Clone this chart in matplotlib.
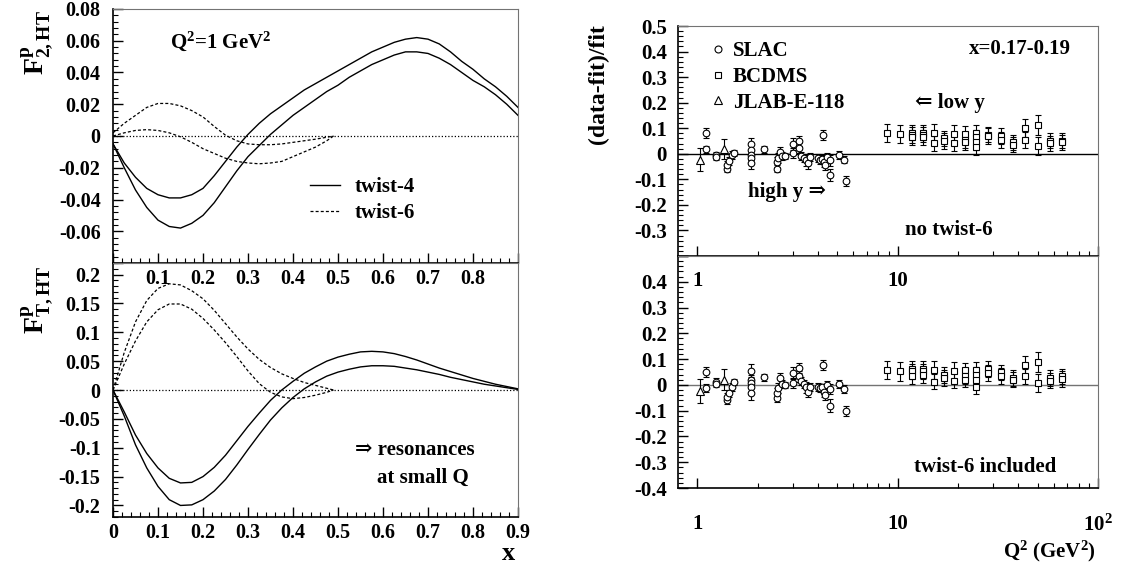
import numpy as np
import matplotlib
matplotlib.use('Agg')
import matplotlib.pyplot as plt
from matplotlib.ticker import MultipleLocator, FuncFormatter, FixedLocator
from matplotlib.lines import Line2D

plt.rcParams['font.family'] = ['Liberation Serif', 'DejaVu Serif']
plt.rcParams['font.weight'] = 'bold'
plt.rcParams['mathtext.fontset'] = 'custom'
plt.rcParams['mathtext.rm'] = 'Liberation Serif:bold'
plt.rcParams['mathtext.it'] = 'Liberation Serif:bold'
plt.rcParams['mathtext.bf'] = 'Liberation Serif:bold'
plt.rcParams['axes.unicode_minus'] = False

# ---- left panels: higher twist curves at Q^2 = 1 GeV^2 ----
x_t4 = np.round(np.arange(0, 0.9001, 0.025), 3)
x_t6 = np.array([0, 0.025, 0.05, 0.075, 0.1, 0.125, 0.15, 0.175, 0.2, 0.225, 0.25,
                 0.275, 0.3, 0.325, 0.35, 0.375, 0.4, 0.425, 0.45, 0.475, 0.49])

f2_t4_hi = [-0.005, -0.017, -0.026, -0.033, -0.037, -0.039, -0.039, -0.037, -0.033, -0.025,
            -0.016, -0.007, 0.001, 0.008, 0.014, 0.019, 0.024, 0.029, 0.033, 0.037,
            0.041, 0.045, 0.049, 0.053, 0.056, 0.059, 0.061, 0.062, 0.061, 0.058,
            0.053, 0.047, 0.042, 0.036, 0.031, 0.025, 0.018]
f2_t4_lo = [-0.005, -0.020, -0.034, -0.045, -0.053, -0.057, -0.058, -0.055, -0.050, -0.042,
            -0.032, -0.022, -0.013, -0.006, 0.001, 0.007, 0.013, 0.018, 0.023, 0.028,
            0.032, 0.037, 0.041, 0.045, 0.048, 0.051, 0.053, 0.053, 0.052, 0.049,
            0.045, 0.040, 0.035, 0.031, 0.026, 0.020, 0.013]
f2_t6_hi = [0.002, 0.008, 0.013, 0.018, 0.0205, 0.0205, 0.019, 0.016, 0.012, 0.006, 0.0005,
            -0.003, -0.005, -0.0055, -0.0055, -0.005, -0.004, -0.003, -0.002, -0.0008, 0.0]
f2_t6_lo = [0.0, 0.002, 0.0035, 0.004, 0.0035, 0.002, -0.0005, -0.004, -0.008, -0.011, -0.014,
            -0.016, -0.017, -0.0175, -0.017, -0.016, -0.013, -0.010, -0.007, -0.003, 0.0]

ft_t4_hi = [0.0, -0.038, -0.078, -0.110, -0.135, -0.153, -0.161, -0.160, -0.150, -0.134,
            -0.113, -0.088, -0.063, -0.040, -0.018, 0.000, 0.015, 0.029, 0.040, 0.050,
            0.057, 0.062, 0.066, 0.067, 0.066, 0.063, 0.058, 0.052, 0.045, 0.038,
            0.032, 0.026, 0.020, 0.015, 0.010, 0.006, 0.002]
ft_t4_lo = [0.0, -0.045, -0.095, -0.135, -0.167, -0.190, -0.200, -0.199, -0.190, -0.175,
            -0.155, -0.130, -0.103, -0.077, -0.052, -0.031, -0.013, 0.002, 0.014, 0.024,
            0.031, 0.036, 0.040, 0.042, 0.042, 0.041, 0.038, 0.035, 0.031, 0.027,
            0.022, 0.018, 0.014, 0.010, 0.007, 0.004, 0.001]
ft_t6_hi = [0.0, 0.065, 0.118, 0.155, 0.176, 0.184, 0.182, 0.172, 0.158, 0.138, 0.115,
            0.092, 0.071, 0.053, 0.039, 0.028, 0.020, 0.013, 0.008, 0.003, 0.0]
ft_t6_lo = [0.0, 0.045, 0.085, 0.118, 0.139, 0.149, 0.149, 0.140, 0.124, 0.104, 0.082,
            0.058, 0.033, 0.011, -0.004, -0.012, -0.015, -0.013, -0.009, -0.004, 0.0]

# ---- right panels: (data-fit)/fit at x = 0.17-0.19 ----
slac_q2 = [1.10, 1.10, 1.24, 1.24, 1.41, 1.41, 1.43, 1.49, 1.52, 1.86, 1.86, 1.86, 1.86, 1.86,
           2.14, 2.50, 2.50, 2.54, 2.59, 2.64, 2.75, 3.00, 3.00, 3.20, 3.20, 3.29, 3.39, 3.49,
           3.55, 3.63, 4.24, 3.98, 4.07, 4.18, 4.27, 4.35, 4.43, 4.61, 4.61, 5.12, 5.41, 5.53]
slac_top = [0.081, 0.017, -0.004, -0.013, -0.058, -0.045, -0.028, -0.006, 0.004, 0.038, 0.013,
            -0.004, -0.017, -0.035, 0.017, -0.058, -0.032, -0.017, 0.006, -0.009, -0.010, 0.038,
            0.004, 0.051, 0.022, -0.009, -0.017, -0.026, -0.038, -0.013, 0.073, -0.017, -0.026,
            -0.019, -0.032, -0.045, -0.013, -0.026, -0.083, -0.006, -0.023, -0.106]
slac_bot = [0.049, -0.013, 0.013, 0.003, -0.059, -0.046, -0.033, -0.007, 0.010, 0.055, 0.020,
            0.007, -0.007, -0.033, 0.029, -0.052, -0.033, -0.013, 0.026, 0.003, 0.000, 0.046,
            0.007, 0.066, 0.033, 0.016, 0.003, -0.010, -0.026, -0.007, 0.076, -0.007, -0.013,
            -0.010, -0.026, -0.039, 0.000, -0.017, -0.081, 0.003, -0.017, -0.102]
slac_err = [0.02, 0.015, 0.012, 0.012, 0.015, 0.015, 0.015, 0.015, 0.012, 0.025, 0.02, 0.02,
            0.02, 0.025, 0.012, 0.015, 0.02, 0.02, 0.02, 0.015, 0.012, 0.025, 0.02, 0.02, 0.02,
            0.015, 0.015, 0.02, 0.02, 0.015, 0.02, 0.015, 0.015, 0.015, 0.02, 0.02, 0.015, 0.02,
            0.025, 0.015, 0.015, 0.02]

jlab_q2 = [1.035, 1.35]
jlab_top = [-0.023, 0.019]
jlab_bot = [-0.024, 0.020]
jlab_err = [0.045, 0.04]

bcdms_q2 = [8.83, 10.3, 11.8, 11.8, 11.8, 13.3, 13.3, 13.3, 15.1, 15.1, 17.0, 17.0, 19.1, 19.1,
            21.6, 21.6, 21.6, 24.5, 24.5, 24.5, 24.5, 28.1, 28.1, 32.6, 32.6, 37.8, 37.8,
            43.2, 43.2, 50.0, 50.0, 57.6, 57.6, 66.3, 66.3]
bcdms_top = [0.083, 0.079, 0.083, 0.073, 0.064, 0.083, 0.075, 0.064, 0.083, 0.041, 0.060, 0.050,
             0.079, 0.041, 0.079, 0.054, 0.045, 0.083, 0.064, 0.045, 0.026, 0.075, 0.070, 0.070,
             0.054, 0.045, 0.036, 0.100, 0.054, 0.113, 0.032, 0.051, 0.041, 0.051, 0.045]
bcdms_bot = [0.056, 0.052, 0.062, 0.052, 0.033, 0.062, 0.052, 0.039, 0.056, 0.013, 0.039, 0.026,
             0.052, 0.017, 0.056, 0.033, 0.020, 0.059, 0.039, 0.020, -0.007, 0.062, 0.046, 0.049,
             0.035, 0.026, 0.020, 0.079, 0.033, 0.089, 0.009, 0.026, 0.017, 0.033, 0.022]
bcdms_err = [0.035, 0.035, 0.03, 0.03, 0.03, 0.03, 0.03, 0.03, 0.035, 0.03, 0.03, 0.03, 0.035,
             0.03, 0.03, 0.03, 0.03, 0.03, 0.03, 0.03, 0.03, 0.03, 0.03, 0.03, 0.03, 0.03, 0.03,
             0.035, 0.03, 0.04, 0.035, 0.03, 0.03, 0.03, 0.03]

W, H = 1127, 566
fig = plt.figure(figsize=(W / 100, H / 100), dpi=100)


def rect(x0, y0, x1, y1):
    return [x0 / W, 1 - y1 / H, (x1 - x0) / W, (y1 - y0) / H]


def ftext(px, py, s, **kw):
    kw.setdefault('fontsize', 15)
    return fig.text(px / W, 1 - py / H, s, **kw)


def style(ax):
    ax.set_facecolor('none')
    ax.spines['top'].set_color('0.45')
    ax.spines['right'].set_color('0.45')
    for s in ['left', 'bottom']:
        ax.spines[s].set_linewidth(1.2)
    ax.tick_params(which='both', direction='in', top=False, right=False, labelsize=14.5)
    ax.tick_params(which='major', length=7, width=1)
    ax.tick_params(which='minor', length=3.5, width=0.8)


def fmt(lo, hi):
    def f(v, pos):
        v = round(v, 4)
        if v < lo - 1e-9 or v > hi + 1e-9:
            return ''
        return '%g' % v
    return FuncFormatter(f)


dash = (0, (2.4, 1.7))
dot = (0, (1, 1.6))

# left top
ax1 = fig.add_axes(rect(113, 9, 518, 263))
ax1.plot(x_t4, f2_t4_hi, 'k-', lw=1.0)
ax1.plot(x_t4, f2_t4_lo, 'k-', lw=1.0)
ax1.plot(x_t6, f2_t6_hi, color='k', ls=dash, lw=0.9)
ax1.plot(x_t6, f2_t6_lo, color='k', ls=dash, lw=0.9)
ax1.axhline(0, color='k', ls=dot, lw=0.9)
ax1.set_xlim(0, 0.9)
ax1.set_ylim(-0.08, 0.08)
ax1.xaxis.set_major_locator(MultipleLocator(0.1))
ax1.xaxis.set_minor_locator(MultipleLocator(0.02))
ax1.yaxis.set_major_locator(MultipleLocator(0.02))
ax1.yaxis.set_minor_locator(MultipleLocator(0.004))
ax1.xaxis.set_major_formatter(fmt(0.1, 0.8))
ax1.yaxis.set_major_formatter(fmt(-0.06, 0.08))
style(ax1)
ax1.tick_params(axis='x', pad=4)
ax1.tick_params(axis='y', pad=9)
ax1.legend([Line2D([], [], color='k', lw=1.0), Line2D([], [], color='k', ls=dash, lw=0.9)],
           ['twist-4', 'twist-6'], loc='upper left', frameon=False, fontsize=15,
           bbox_to_anchor=(310 / W, 1 - 177 / H), bbox_transform=fig.transFigure,
           borderpad=0, borderaxespad=0, handlelength=1.45, handletextpad=0.7,
           labelspacing=0.3)

# left bottom
ax2 = fig.add_axes(rect(113, 263, 518, 517))
ax2.plot(x_t4, ft_t4_hi, 'k-', lw=1.0)
ax2.plot(x_t4, ft_t4_lo, 'k-', lw=1.0)
ax2.plot(x_t6, ft_t6_hi, color='k', ls=dash, lw=0.9)
ax2.plot(x_t6, ft_t6_lo, color='k', ls=dash, lw=0.9)
ax2.axhline(0, color='k', ls=dot, lw=0.9)
ax2.set_xlim(0, 0.9)
ax2.set_ylim(-0.22, 0.22)
ax2.xaxis.set_major_locator(MultipleLocator(0.1))
ax2.xaxis.set_minor_locator(MultipleLocator(0.02))
ax2.yaxis.set_major_locator(MultipleLocator(0.05))
ax2.yaxis.set_minor_locator(MultipleLocator(0.01))
ax2.xaxis.set_major_formatter(fmt(0, 0.9))
ax2.yaxis.set_major_formatter(fmt(-0.2, 0.2))
style(ax2)
ax2.tick_params(axis='x', pad=4)
ax2.tick_params(axis='y', pad=9)


def qfmt(labels):
    return FuncFormatter(lambda v, pos: labels.get(int(round(v)), ''))


def right_panel(ax, slac, jlab, bcdms, zcolor, ylo, yhi, labels, pad):
    ax.set_xscale('log')
    ax.axhline(0, color=zcolor, lw=1.0, zorder=1)
    kw = dict(ls='none', mfc='white', mec='k', mew=0.8, ecolor='k', elinewidth=0.8,
              capsize=2.2, capthick=0.8, zorder=3)
    ax.errorbar(bcdms_q2, bcdms, yerr=bcdms_err, marker='s', ms=4.5, **kw)
    ax.errorbar(slac_q2, slac, yerr=slac_err, marker='o', ms=4.8, **kw)
    ax.errorbar(jlab_q2, jlab, yerr=jlab_err, marker='^', ms=5.2, **kw)
    ax.set_xlim(0.8, 100)
    ax.set_ylim(-0.4, 0.5)
    ax.xaxis.set_major_locator(FixedLocator([1, 10, 100]))
    ax.xaxis.set_minor_locator(FixedLocator([m * d for d in (1, 10) for m in range(2, 10)]))
    ax.xaxis.set_minor_formatter(FuncFormatter(lambda v, pos: ''))
    ax.xaxis.set_major_formatter(qfmt(labels))
    ax.yaxis.set_major_locator(MultipleLocator(0.1))
    ax.yaxis.set_minor_locator(MultipleLocator(0.02))
    ax.yaxis.set_major_formatter(fmt(ylo, yhi))
    style(ax)
    ax.tick_params(axis='x', pad=pad, labelsize=15)
    ax.tick_params(axis='y', pad=8, labelsize=15)


ax3 = fig.add_axes(rect(678, 26, 1098, 256))
right_panel(ax3, slac_top, jlab_top, bcdms_top, 'k', -0.3, 0.5, {1: '1', 10: '10'}, 11)
ax4 = fig.add_axes(rect(678, 256, 1098, 488))
right_panel(ax4, slac_bot, jlab_bot, bcdms_bot, '0.45', -0.4, 0.4,
            {1: '1', 10: '10', 100: r'$\mathbf{10^{2}}$'}, 19)

handles = [Line2D([], [], ls='none', marker=m, mfc='none', mec='k', mew=0.8, ms=s)
           for m, s in (('o', 5), ('s', 5), ('^', 5.5))]
ax3.legend(handles, ['SLAC', 'BCDMS', 'JLAB-E-118'], loc='upper left', frameon=False,
           fontsize=15, bbox_to_anchor=(710 / W, 1 - 41 / H), bbox_transform=fig.transFigure,
           borderpad=0, borderaxespad=0, handlelength=0.8, handletextpad=0.3,
           labelspacing=0.28, numpoints=1)

# labels and annotations
ftext(37, 10, r'$\mathrm{F^{p}_{2,HT}}$', rotation=90, ha='center', va='top', fontsize=20)
ftext(37, 266, r'$\mathrm{F^{p}_{T,HT}}$', rotation=90, ha='center', va='top', fontsize=20)
ftext(509, 554, r'$\mathrm{x}$', ha='center', va='center', fontsize=19)
ftext(170, 41, r'Q$^{2}$=1 GeV$^{2}$', ha='left', va='center')
ftext(355, 450, '\u21d2 resonances', ha='left', va='center')
ftext(377, 478, 'at small Q', ha='left', va='center')

ftext(598, 24, '(data-fit)/fit', rotation=90, ha='center', va='top', fontsize=17)
ftext(1096, 551, r'Q$^{2}$ (GeV$^{2}$)', ha='right', va='center')
ftext(1071, 49, 'x=0.17-0.19', ha='right', va='center')
ftext(915, 103, '\u21d0 low y', ha='left', va='center')
ftext(748, 192, 'high y \u21d2', ha='left', va='center')
ftext(905, 230, 'no twist-6', ha='left', va='center')
ftext(914, 467, 'twist-6 included', ha='left', va='center')

fig.savefig('out.png', dpi=100)
